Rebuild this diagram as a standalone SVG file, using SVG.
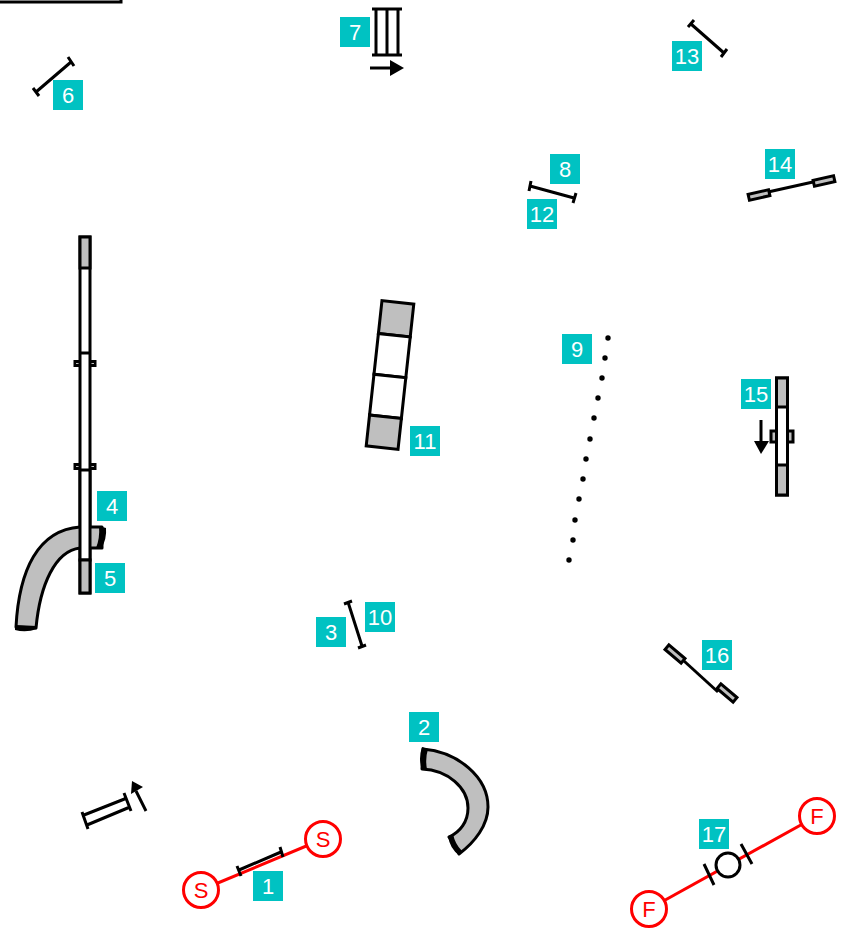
<svg xmlns="http://www.w3.org/2000/svg" width="845" height="931" viewBox="0 0 845 931">
<style>
.b{fill:#00c2c2}
.t{font:22px "Liberation Sans",Arial,sans-serif;fill:#fff;text-anchor:middle}
.l{fill:none;stroke:#000;stroke-width:3}
.w{fill:#fff;stroke:#000;stroke-width:3}
.g{fill:#bfbfbf;stroke:#000;stroke-width:3}
.tube{fill:#bfbfbf;stroke:#000;stroke-width:3;stroke-linejoin:round}
.r{fill:none;stroke:#f00;stroke-width:3}
.rc{fill:#fff;stroke:#f00;stroke-width:3}
.rt{font:22px "Liberation Sans",Arial,sans-serif;fill:#f00;text-anchor:middle}
</style>
<g id="frame"><path class="l" d="M0,2H121V0"/></g>
<g id="connectors">
<path class="r" d="M201,890L323,839"/>
<path class="r" d="M649,909L817,816"/>
</g>
<g id="n6"><path class="l" d="M36,92L71,62M33,88L39,96M68,57L74,66"/><rect class="b" x="53" y="80" width="30" height="30"/><text class="t" x="68" y="103">6</text></g>
<g id="n7"><path class="l" d="M372,9H402M372,55H402M376,9V55M387,9V55M398,9V55"/><path class="l" d="M370,68H391"/><path d="M390,60L404,68L390,76Z"/><rect class="b" x="340" y="17" width="30" height="30"/><text class="t" x="355" y="40">7</text></g>
<g id="n13"><path class="l" d="M691,24L724,53M688,27L694,20M721,57L727,49"/><rect class="b" x="672" y="41" width="30" height="30"/><text class="t" x="687" y="64">13</text></g>
<g id="n8"><path class="l" d="M530,186L574,198M531,181L529,191M576,193L573,203"/><rect class="b" x="550" y="154" width="30" height="30"/><text class="t" x="565" y="177">8</text></g>
<g id="n12"><rect class="b" x="527" y="199" width="30" height="30"/><text class="t" x="542" y="222">12</text></g>
<g id="n14"><path class="l" d="M768,192L813,182"/><rect class="g" x="-10.500" y="-3" width="21" height="6" transform="translate(759,195) rotate(-13)"/><rect class="g" x="-10.500" y="-3" width="21" height="6" transform="translate(824,181) rotate(-13)"/><rect class="b" x="765" y="149" width="30" height="30"/><text class="t" x="780" y="172">14</text></g>
<g id="n4"><rect class="g" x="75" y="361.500" width="20" height="4"/><rect class="g" x="75" y="464.500" width="20" height="4"/><rect class="w" x="80" y="237" width="10" height="356"/><rect class="g" x="80" y="237" width="10" height="31"/><path class="l" d="M80,353H90M80,477H90"/><rect class="b" x="97" y="491" width="30" height="30"/><text class="t" x="112" y="514">4</text></g>
<g id="n5">
<path class="tube" d="M16,627C19,570 38,530 80,527L102,527L102,548L80,548C55,551 40,585 36,628Z"/>
<path d="M15,625L37,626L37,629Q26,633 15,630Z"/>
<path d="M99,526L106,528Q107,539 101,549L96,548Q100,538 99,526Z"/>
<rect class="w" x="80" y="470" width="10" height="90"/>
<rect class="g" x="80" y="560" width="10" height="33"/>
<rect class="b" x="95" y="563" width="30" height="30"/><text class="t" x="110" y="586">5</text></g>
<g id="n11"><g transform="translate(390,375) rotate(6.200)"><rect class="g" x="-16" y="-73" width="32" height="33"/><rect class="w" x="-16" y="-40" width="32" height="41"/><rect class="w" x="-16" y="1" width="32" height="41"/><rect class="g" x="-16" y="42" width="32" height="31"/></g><rect class="b" x="410" y="426" width="30" height="30"/><text class="t" x="425" y="449">11</text></g>
<g id="n9"><rect class="b" x="562" y="334" width="30" height="30"/><text class="t" x="577" y="357">9</text>
<g fill="#000"><circle cx="608" cy="338" r="2.700"/><circle cx="605" cy="358" r="2.700"/><circle cx="602" cy="378" r="2.700"/><circle cx="598" cy="398" r="2.700"/><circle cx="594" cy="418" r="2.700"/><circle cx="590" cy="439" r="2.700"/><circle cx="586" cy="459" r="2.700"/><circle cx="583" cy="479" r="2.700"/><circle cx="579" cy="499" r="2.700"/><circle cx="575" cy="520" r="2.700"/><circle cx="573" cy="540" r="2.700"/><circle cx="569" cy="560" r="2.700"/></g></g>
<g id="n15"><rect class="g" x="771" y="431" width="22" height="11"/><rect class="w" x="776.500" y="378" width="11" height="117"/><rect class="g" x="776.500" y="378" width="11" height="29"/><rect class="g" x="776.500" y="465" width="11" height="30"/><path class="l" d="M761,420V442"/><path d="M754,441H769L761,454Z"/><rect class="b" x="741" y="379" width="30" height="30"/><text class="t" x="756" y="402">15</text></g>
<g id="n3"><path class="l" d="M348,602L362,646M344,604L352,601M358,648L366,645"/><rect class="b" x="316" y="617" width="30" height="30"/><text class="t" x="331" y="640">3</text></g>
<g id="n10"><rect class="b" x="365" y="602" width="30" height="30"/><text class="t" x="380" y="625">10</text></g>
<g id="n16"><path class="l" d="M684,661L718,692"/><rect class="g" x="-10.500" y="-3" width="21" height="6" transform="translate(675,654) rotate(40)"/><rect class="g" x="-10.500" y="-3" width="21" height="6" transform="translate(727,693) rotate(40)"/><rect class="b" x="702" y="640" width="30" height="30"/><text class="t" x="717" y="663">16</text></g>
<g id="n2"><rect class="b" x="409" y="712" width="30" height="30"/><text class="t" x="424" y="735">2</text>
<path class="tube" d="M423,749C458,752 488,777 488,807C488,825 475,842 459,854L449,837C460,832 468,822 468,808C468,788 448,770 422,769Z"/>
<path d="M422,747L428,749Q425,759 427,769L422,770Q418,759 422,747Z"/>
<path d="M448,836L453,834Q455,844 462,851L459,855Q450,849 448,836Z"/></g>
<g id="nArrow"><path class="l" d="M84,815L127,798M87,825L130,807M82,812L88,829M124,793L131,811"/><path class="l" d="M146,811L136,791"/><path d="M132,781L143,787L131,794Z"/></g>
<g id="n1"><path class="l" d="M239,870L281,852M237,866L241,876M280,847L283,857"/><circle class="rc" cx="201" cy="890" r="17.500"/><text class="rt" x="201" y="898">S</text><circle class="rc" cx="323" cy="839" r="17.500"/><text class="rt" x="323" y="847">S</text><rect class="b" x="253" y="871" width="30" height="30"/><text class="t" x="268" y="894">1</text></g>
<g id="n17"><circle class="rc" cx="649" cy="909" r="17.500"/><text class="rt" x="649" y="917">F</text><circle class="rc" cx="817" cy="816" r="17.500"/><text class="rt" x="817" y="824">F</text><circle cx="728" cy="865" r="12" fill="#fff" stroke="#000" stroke-width="3"/><path class="l" d="M704,864L714,885M741,844L752,864"/><rect class="b" x="699" y="819" width="30" height="30"/><text class="t" x="714" y="842">17</text></g>
</svg>
